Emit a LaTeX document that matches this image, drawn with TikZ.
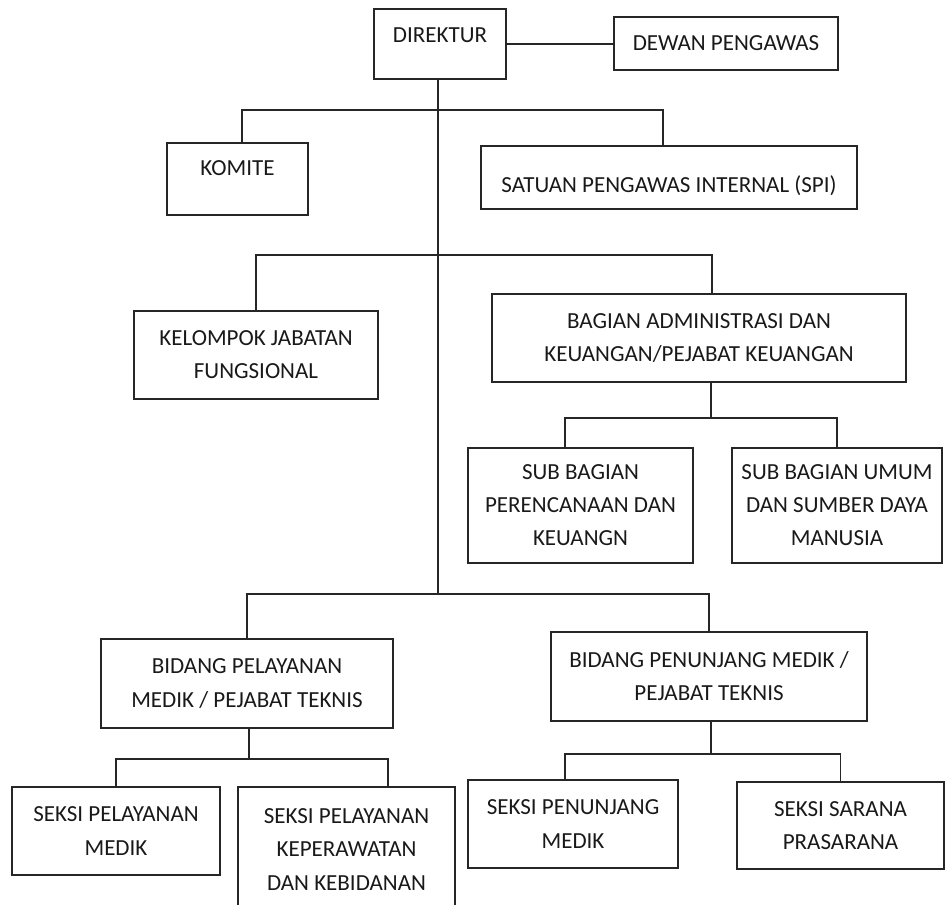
\documentclass[tikz,border=0pt]{standalone}
\usepackage{fontspec}
\setmainfont{Carlito}
\usetikzlibrary{math}
\usetikzlibrary{positioning}
\tikzstyle{box} = [draw=black!85, line width=1.1pt, align=center, inner sep=0pt, text=black!90, font=\fontsize{13.1}{18.8}\selectfont]
\tikzstyle{line} = [draw=black!85, line width=1.1pt]
\tikzset{sz/.style 2 args={minimum width=#1*0.02cm, minimum height=#2*0.02cm}}

\begin{document}
\begin{tikzpicture}[x=0.02cm, y=-0.02cm]

  \tikzmath{\xmax = 945; \ymax = 904;}
  \useasboundingbox (0,0) rectangle (\xmax,\ymax);

  % top
  \node[box, sz={132}{70}, text height=0.3cm, text depth=0.36cm] (direktur) at (440,44) {DIREKTUR};
  \node[box, sz={224}{53}] (dewan) at (726,43.5) {DEWAN PENGAWAS};
  \node[box, sz={141}{72}, text height=0.3cm, text depth=0.44cm] (komite) at (237.5,179) {KOMITE};
  \node[box, sz={376}{63}, text height=0.6cm, text depth=0pt] (spi) at (669,177.5) {SATUAN PENGAWAS INTERNAL (SPI)};

  % middle
  \node[box, sz={244}{88}] (kjf) at (256,355) {KELOMPOK JABATAN\\FUNGSIONAL};
  \node[box, sz={414}{88}] (bagian) at (699,338) {BAGIAN ADMINISTRASI DAN\\KEUANGAN/PEJABAT KEUANGAN};
  \node[box, sz={225}{115}] (subper) at (580.5,505.5) {SUB BAGIAN\\PERENCANAAN DAN\\KEUANGN};
  \node[box, sz={210}{115}] (subumum) at (837,505.5) {SUB BAGIAN UMUM\\DAN SUMBER DAYA\\MANUSIA};

  % bottom
  \node[box, sz={292}{89}] (bidpel) at (247,683.5) {BIDANG PELAYANAN\\MEDIK / PEJABAT TEKNIS};
  \node[box, sz={316}{89}] (bidpen) at (709,676.5) {BIDANG PENUNJANG MEDIK /\\PEJABAT TEKNIS};
  \node[box, sz={208}{88}] (seksipm) at (116,831) {SEKSI PELAYANAN\\MEDIK};
  \node[box, sz={217}{125}] (seksikep) at (346.5,849.5) {SEKSI PELAYANAN\\KEPERAWATAN\\DAN KEBIDANAN};
  \node[box, sz={210}{88}] (seksipen) at (573,824) {SEKSI PENUNJANG\\MEDIK};
  \node[box, sz={207}{87}] (seksisarana) at (840.5,825.5) {SEKSI SARANA\\PRASARANA};

  % junctions
  \coordinate (b1) at (438,110);
  \coordinate (b2) at (438,255);
  \coordinate (b3) at (438,594);
  \coordinate (j1) at (711,418);
  \coordinate (j2) at (249,759);
  \coordinate (j3) at (711,754);

  % connectors
  \draw[line] (direktur.east) -- (dewan.west |- direktur.east);
  \draw[line] (direktur.south -| b3) -- (b3);
  \draw[line] ([xshift=0.09cm]komite.north) |- (b1) -| ([xshift=-0.12cm]spi.north);
  \draw[line] (kjf.north) |- (b2) -| ([xshift=0.26cm]bagian.north);
  \draw[line] (bagian.south -| j1) -- (j1);
  \draw[line] ([xshift=-0.31cm]subper.north) |- (j1) -| (subumum.north);
  \draw[line] (bidpel.north) |- (b3) -| (bidpen.north);
  \draw[line] (bidpel.south -| j2) -- (j2);
  \draw[line] (seksipm.north) |- (j2) -| ([xshift=0.83cm]seksikep.north);
  \draw[line] (bidpen.south -| j3) -- (j3);
  \draw[line] ([xshift=-0.16cm]seksipen.north) |- (j3) -| (seksisarana.north);

\end{tikzpicture}
\end{document}
